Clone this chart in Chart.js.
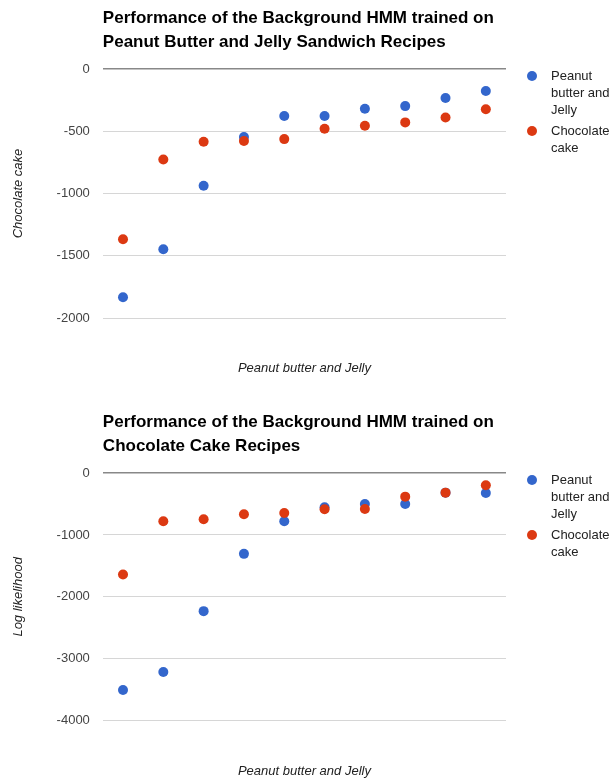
<!DOCTYPE html>
<html>
<head>
<meta charset="utf-8">
<script src="https://cdn.jsdelivr.net/npm/chart.js@4.4.1/dist/chart.umd.min.js"></script>
<style>
  html, body { margin: 0; padding: 0; background: #fff; }
  .box { position: relative; width: 611px; height: 390px; }
</style>
</head>
<body>
<div class="box"><canvas id="chartPbj"></canvas></div>
<div class="box"><canvas id="chartChoc"></canvas></div>
<script>
// categories along the x axis (no labels shown in the original)
const categories = ['1', '2', '3', '4', '5', '6', '7', '8', '9', '10'];
const seriesNames = ['Peanut butter and Jelly', 'Chocolate cake'];

// HMM trained on peanut butter and jelly recipes
const pbjModelOnPbj = [-1834, -1448, -938, -547, -378, -378, -319, -298, -233, -177];
const pbjModelOnChoc = [-1367, -727, -584, -579, -563, -480, -456, -429, -389, -324];

// HMM trained on chocolate cake recipes
const chocModelOnPbj = [-3505, -3215, -2231, -1306, -780, -554, -500, -500, -317, -323];
const chocModelOnChoc = [-1640, -780, -747, -667, -645, -586, -581, -382, -317, -199];

// y tick labels
const pbjTicks = [0, -500, -1000, -1500, -2000];
const chocTicks = [0, -1000, -2000, -3000, -4000];

const seriesColors = ['#3366cc', '#dc3912'];
const family = 'Arial, "Liberation Sans", sans-serif';

function wrapText(ctx, text, maxW) {
    const words = text.split(' ');
    const lines = [];
    let line = '';
    words.forEach(w => {
        const t = line ? line + ' ' + w : w;
        if (line && ctx.measureText(t).width > maxW) {
            lines.push(line);
            line = w;
        } else {
            line = t;
        }
    });
    lines.push(line);
    return lines;
}

// legend at the right, with wrapped labels
const sideLegend = {
    id: 'sideLegend',
    afterDraw(chart) {
        const { ctx, chartArea } = chart;
        ctx.save();
        ctx.font = '13px ' + family;
        ctx.textBaseline = 'middle';
        let y = chartArea.top + 7;
        chart.data.datasets.forEach(ds => {
            ctx.fillStyle = ds.backgroundColor;
            ctx.beginPath();
            ctx.arc(chartArea.right + 26, y, 5, 0, Math.PI * 2);
            ctx.fill();
            ctx.fillStyle = '#222';
            const lines = wrapText(ctx, ds.label, 61);
            lines.forEach((l, i) => ctx.fillText(l, chartArea.right + 45, y + i * 17));
            y += lines.length * 17 + 4;
        });
        ctx.restore();
    }
};

function buildChart(id, title, yTitle, pbjData, chocData, ticks, topPad, bottomPad) {
    return new Chart(document.getElementById(id), {
        type: 'line',
        data: {
            labels: categories,
            datasets: [{
                label: seriesNames[0],
                data: pbjData,
                backgroundColor: seriesColors[0],
                borderColor: seriesColors[0],
                showLine: false,
                order: 1
            }, {
                label: seriesNames[1],
                data: chocData,
                backgroundColor: seriesColors[1],
                borderColor: seriesColors[1],
                showLine: false,
                order: 0
            }]
        },
        options: {
            responsive: true,
            maintainAspectRatio: false,
            animation: false,
            elements: { point: { radius: 5, hoverRadius: 5, borderWidth: 0 } },
            layout: { padding: { top: topPad, right: 105, bottom: bottomPad, left: 0 } },
            plugins: {
                legend: { display: false },
                tooltip: { enabled: false },
                title: {
                    display: true,
                    text: title,
                    align: 'start',
                    fullSize: false,
                    color: '#000',
                    font: { family: family, size: 17, weight: 'bold', lineHeight: '24px' },
                    padding: { top: 6, bottom: 15 }
                }
            },
            scales: {
                x: {
                    offset: true,
                    grid: { display: false, drawTicks: false },
                    border: { display: false },
                    ticks: { display: false },
                    title: {
                        display: true,
                        text: 'Peanut butter and Jelly',
                        color: '#222',
                        font: { family: family, size: 13, style: 'italic' },
                        padding: { top: 43, bottom: 0.7 }
                    }
                },
                y: {
                    min: Math.min(...ticks),
                    max: Math.max(...ticks),
                    afterBuildTicks: s => { s.ticks = ticks.map(v => ({ value: v })); },
                    grid: {
                        drawTicks: false,
                        color: c => c.tick && c.tick.value === 0 ? '#888' : '#d6d6d6',
                        lineWidth: c => c.tick && c.tick.value === 0 ? 1.5 : 1
                    },
                    border: { display: false },
                    ticks: {
                        padding: 13,
                        color: '#444',
                        font: { family: family, size: 13 },
                        callback: v => String(v)
                    },
                    title: {
                        display: true,
                        text: yTitle,
                        color: '#222',
                        font: { family: family, size: 13, style: 'italic' },
                        padding: { top: 11, bottom: 17 }
                    }
                }
            }
        },
        plugins: [sideLegend]
    });
}

document.addEventListener('DOMContentLoaded', function () {
    buildChart('chartPbj',
        ['Performance of the Background HMM trained on', 'Peanut Butter and Jelly Sandwich Recipes'],
        'Chocolate cake', pbjModelOnPbj, pbjModelOnChoc, pbjTicks, 0, 12.7);
    buildChart('chartChoc',
        ['Performance of the Background HMM trained on', 'Chocolate Cake Recipes'],
        'Log likelihood', chocModelOnPbj, chocModelOnChoc, chocTicks, 14, 0);
});
</script>
</body>
</html>
